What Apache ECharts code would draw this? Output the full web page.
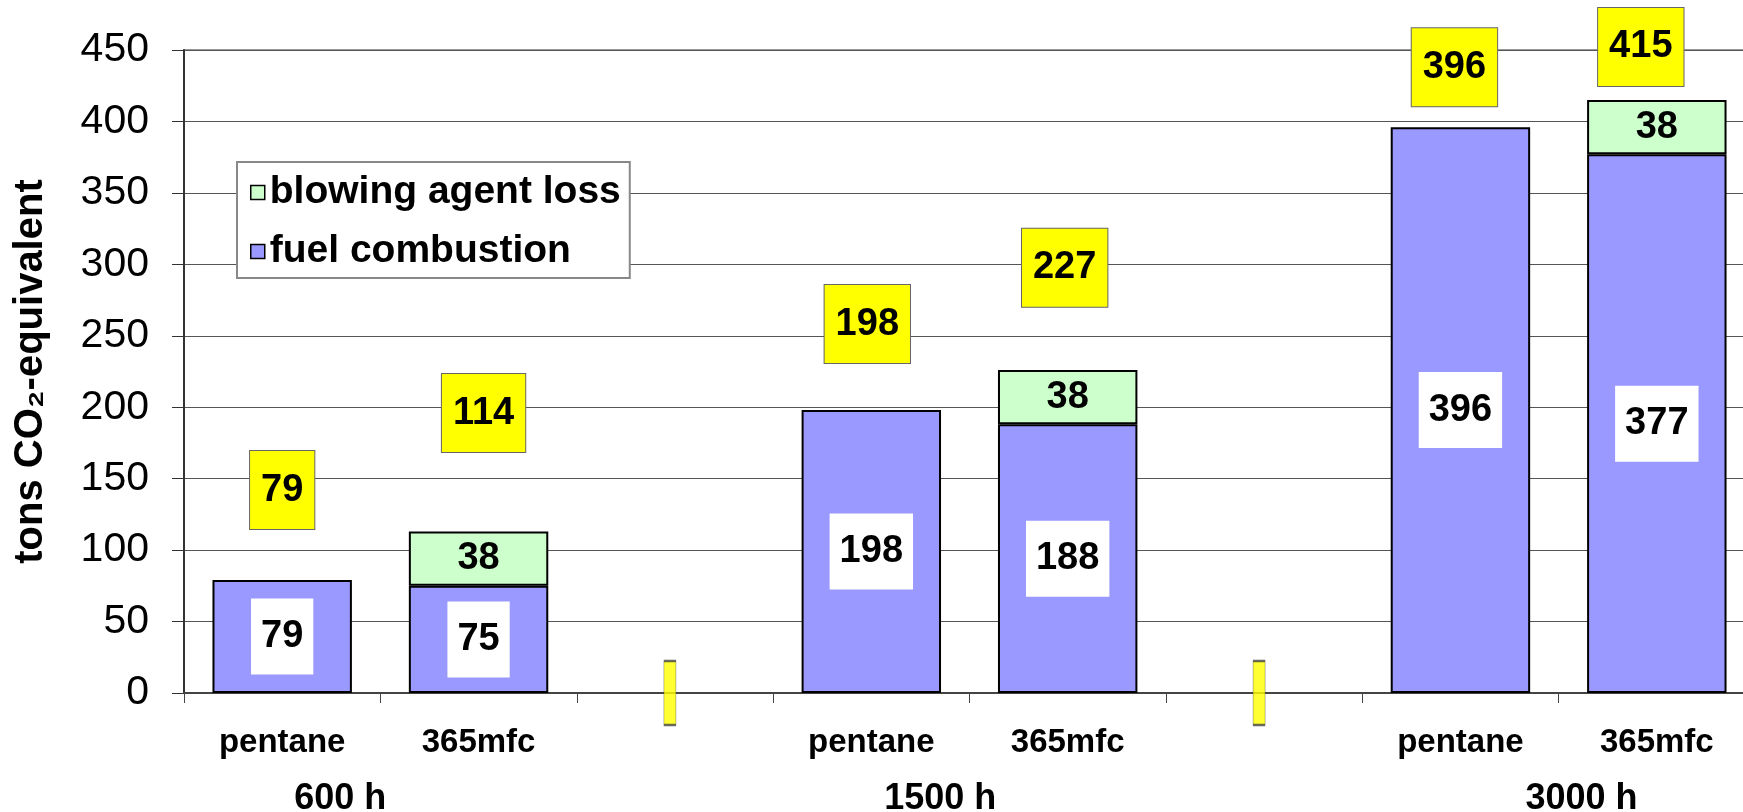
<!DOCTYPE html>
<html>
<head>
<meta charset="utf-8">
<title>tons CO2-equivalent</title>
<script src="https://cdn.jsdelivr.net/npm/echarts@6/dist/echarts.min.js"></script>
<style>
  html, body { margin: 0; padding: 0; background: #fff; }
  #main { width: 1743px; height: 812px; }
</style>
</head>
<body>
<div id="main"></div>
<script>
// chart data
var categories = ['pentane', '365mfc', '', 'pentane', '365mfc', '', 'pentane', '365mfc'];
var groupNames = ['600 h', '', '', '1500 h', '', '', '3000 h', ''];
var fuelCombustion = [79, 75, '-', 198, 188, '-', 396, 377];
var blowingAgentLoss = ['-', 38, '-', '-', 38, '-', '-', 38];
var totals = [79, 114, '-', 198, 227, '-', 396, 415];
var yMin = 0;
var yMax = 450;
var yStep = 50;

// where the yellow total boxes sit (pixels, styling only)
var totalRaise = [90, 117, 0, 86, 101, 0, 60, 53];
var totalShift = [0, 5, 0, -4, -3, 0, -6, -16];
var groupShift = [58, 0, 0, 69, 0, 0, 121, 0];

var font = "'Liberation Sans', Arial, sans-serif";

var myChart = echarts.init(document.getElementById('main'));

var totalPoints = [];
totals.forEach(function (v, i) {
  if (v !== '-') {
    totalPoints.push({
      value: [i, v],
      label: { offset: [totalShift[i], -totalRaise[i]] }
    });
  }
});

// little yellow marks on the empty categories
var gapPoints = [];
categories.forEach(function (c, i) {
  if (c === '') gapPoints.push([i, 0]);
});

var groupData = groupNames.map(function (g, i) {
  return { value: g, textStyle: { padding: [0, 0, 0, groupShift[i] * 2] } };
});

var labelFont = {
  fontFamily: font,
  fontSize: 38,
  fontWeight: 'bold',
  color: '#000',
  lineHeight: 38,
  textBorderWidth: 0
};

var option = {
  animation: false,
  backgroundColor: '#fff',
  textStyle: { fontFamily: font },
  grid: {
    show: true,
    borderColor: '#999',
    borderWidth: 2,
    left: 184,
    top: 50,
    width: 1571,
    bottom: 119,
    outerBoundsMode: 'none',
    containLabel: false
  },
  legend: {
    orient: 'vertical',
    left: 237,
    top: 162,
    data: ['blowing agent loss', 'fuel combustion'],
    backgroundColor: '#fff',
    borderColor: '#888',
    borderWidth: 2,
    padding: [11, 9, 7, 13],
    itemGap: 20,
    itemWidth: 14,
    itemHeight: 14,
    icon: 'rect',
    itemStyle: { borderColor: '#000', borderWidth: 1.5 },
    textStyle: {
      fontFamily: font,
      fontSize: 39,
      fontWeight: 'bold',
      color: '#000'
    }
  },
  xAxis: [
    {
      type: 'category',
      data: categories,
      position: 'bottom',
      axisLine: { lineStyle: { color: '#444', width: 2 } },
      axisTick: { show: true, interval: 0, length: 10, lineStyle: { color: '#444' } },
      axisLabel: {
        interval: 0,
        margin: 33,
        fontFamily: font,
        fontSize: 33,
        fontWeight: 'bold',
        color: '#000'
      }
    },
    {
      type: 'category',
      data: groupData,
      position: 'bottom',
      axisLine: { show: false },
      axisTick: { show: false },
      axisLabel: {
        interval: 0,
        margin: 88,
        fontFamily: font,
        fontSize: 36,
        fontWeight: 'bold',
        color: '#000'
      }
    }
  ],
  yAxis: {
    type: 'value',
    min: yMin,
    max: yMax,
    interval: yStep,
    name: 'tons CO\u2082-equivalent',
    nameLocation: 'middle',
    nameGap: 133,
    nameTextStyle: { fontFamily: font, fontSize: 40, fontWeight: 'bold', color: '#000' },
    axisLine: { show: true, lineStyle: { color: '#333', width: 2 } },
    axisTick: { show: true, length: 12, lineStyle: { color: '#333' } },
    axisLabel: { margin: 35, fontFamily: font, fontSize: 41, color: '#000' },
    splitLine: { lineStyle: { color: '#555', width: 1 } }
  },
  series: [
    {
      name: 'fuel combustion',
      type: 'bar',
      stack: 'total',
      data: fuelCombustion,
      barCategoryGap: '29%',
      itemStyle: { color: '#9999ff', borderColor: '#000', borderWidth: 2 },
      label: Object.assign({
        show: true,
        position: 'inside',
        backgroundColor: '#fff',
        padding: [19, 10]
      }, labelFont)
    },
    {
      name: 'blowing agent loss',
      type: 'bar',
      stack: 'total',
      data: blowingAgentLoss,
      itemStyle: { color: '#ccffcc', borderColor: '#000', borderWidth: 2 },
      label: Object.assign({
        show: true,
        position: 'inside'
      }, labelFont)
    },
    {
      name: 'total',
      type: 'scatter',
      data: totalPoints,
      symbolSize: 0,
      silent: true,
      itemStyle: { color: '#000', opacity: 1 },
      label: Object.assign({
        show: true,
        position: 'inside',
        formatter: function (p) { return p.value[1]; },
        backgroundColor: '#ffff00',
        borderColor: '#666',
        borderWidth: 1,
        padding: [20, 11]
      }, labelFont),
      z: 5
    },
    {
      name: 'gap',
      type: 'scatter',
      data: gapPoints,
      symbol: 'rect',
      symbolSize: [12, 64],
      symbolOffset: [-5, 0],
      silent: true,
      itemStyle: { color: '#ffff00', borderColor: '#444', borderWidth: 1 },
      z: 5
    }
  ]
};

myChart.setOption(option);
</script>
</body>
</html>
